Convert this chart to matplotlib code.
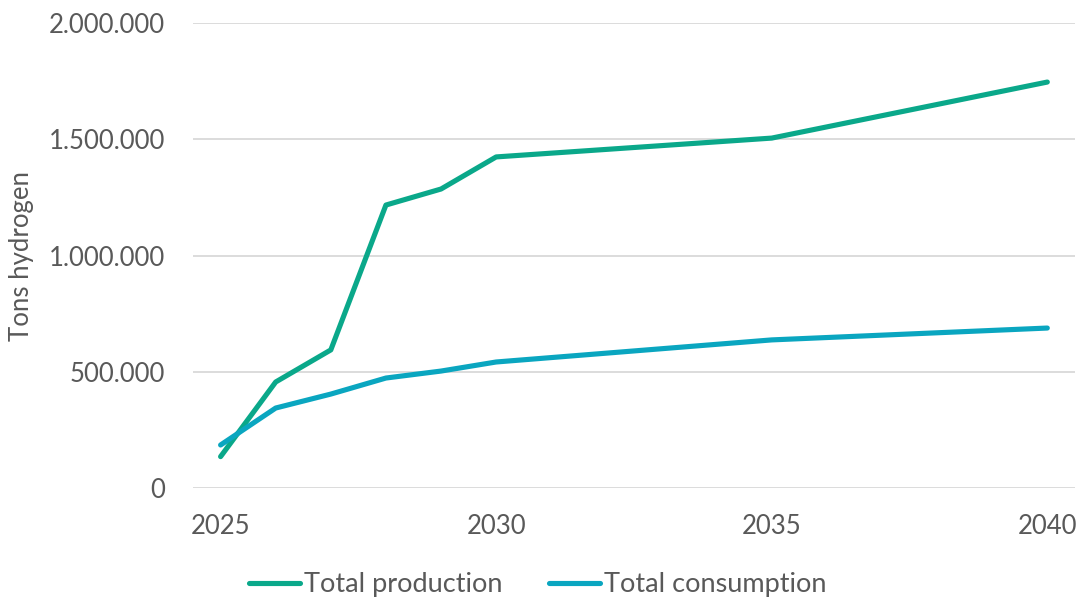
import matplotlib.pyplot as plt
from matplotlib.ticker import FuncFormatter

# data
years = [2025, 2026, 2027, 2028, 2029, 2030, 2035, 2040]
production = [135000, 456000, 594000, 1217000, 1286000, 1424000, 1505000, 1746000]
consumption = [185000, 344000, 404000, 473000, 503000, 542000, 637000, 688000]

GREEN = '#0AA88A'
BLUE = '#0AA6C0'
TEXT = '#595959'

plt.rcParams['font.family'] = ['Lato', 'DejaVu Sans']

fig = plt.figure(figsize=(10.82, 5.99), dpi=100)
ax = fig.add_axes([0.1784, 0.1853, 0.815, 0.7763])

ax.plot(years, production, color=GREEN, lw=3.7, solid_capstyle='round',
        solid_joinstyle='round', label='Total production')
ax.plot(years, consumption, color=BLUE, lw=3.7, solid_capstyle='round',
        solid_joinstyle='round', label='Total consumption')

ax.set_xlim(2024.5, 2040.5)
ax.set_ylim(0, 2000000)
ax.set_xticks([2025, 2030, 2035, 2040])
ax.set_yticks([0, 500000, 1000000, 1500000, 2000000])
ax.yaxis.set_major_formatter(FuncFormatter(lambda v, p: f"{int(v):,}".replace(',', '.')))

ax.grid(axis='y', color='#D9D9D9', lw=1.3)
ax.set_axisbelow(True)
for s in ax.spines.values():
    s.set_visible(False)
ax.tick_params(axis='both', length=0, labelsize=18.5, labelcolor=TEXT)
ax.tick_params(axis='x', pad=19)
ax.tick_params(axis='y', pad=20)

ax.set_ylabel('Tons hydrogen', fontsize=18.5, color=TEXT)
ax.yaxis.set_label_coords(-0.180, 0.5)

fig.legend(loc='center', bbox_to_anchor=(0.497, 0.024), ncol=2, frameon=False,
           fontsize=19.5, labelcolor=TEXT, handlelength=1.9, handletextpad=0.15,
           columnspacing=1.7)

fig.savefig('out.png', dpi=100)
